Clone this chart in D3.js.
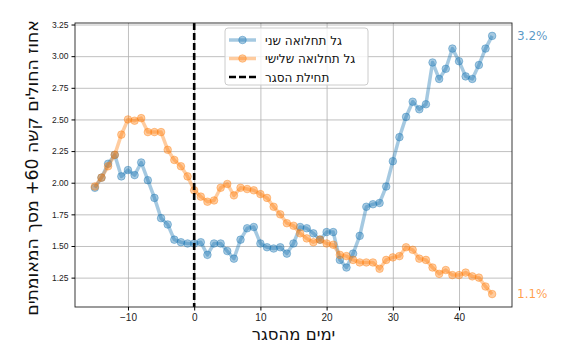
<!DOCTYPE html>
<html>
<head>
<meta charset="utf-8">
<script src="https://cdn.jsdelivr.net/npm/d3@7"></script>
<style>
  body { margin: 0; background: #fff; }
  svg { font-family: 'DejaVu Sans', sans-serif; }
</style>
</head>
<body>
<svg id="chart"></svg>
<script>
// days relative to the lockdown start
const days = d3.range(-15, 46)

const secondWave = [
  1.96, 2.04, 2.15, 2.22, 2.05, 2.10, 2.06, 2.16, 2.02, 1.88, 1.72, 1.67, 1.55, 1.53, 1.52,
  1.52, 1.53, 1.43, 1.52, 1.52, 1.46, 1.40, 1.55, 1.64, 1.65, 1.52, 1.49, 1.48, 1.49, 1.44,
  1.52, 1.65, 1.64, 1.60, 1.55, 1.61, 1.61, 1.39, 1.33, 1.44, 1.58, 1.81, 1.83, 1.84, 1.97,
  2.17, 2.36, 2.52, 2.64, 2.58, 2.62, 2.95, 2.82, 2.90, 3.06, 2.96, 2.84, 2.82, 2.93, 3.06,
  3.16
]

const thirdWave = [
  1.97, 2.04, 2.13, 2.22, 2.38, 2.50, 2.49, 2.51, 2.40, 2.40, 2.40, 2.26, 2.18, 2.13, 2.05,
  1.94, 1.89, 1.85, 1.86, 1.96, 1.99, 1.90, 1.96, 1.95, 1.94, 1.91, 1.88, 1.81, 1.75, 1.68,
  1.66, 1.60, 1.56, 1.53, 1.55, 1.52, 1.51, 1.43, 1.42, 1.39, 1.37, 1.37, 1.37, 1.32, 1.39,
  1.41, 1.42, 1.49, 1.47, 1.40, 1.39, 1.33, 1.28, 1.31, 1.27, 1.27, 1.29, 1.26, 1.25, 1.18,
  1.12
]

const xTicks = [-10, 0, 10, 20, 30, 40]
const yTicks = [1.25, 1.50, 1.75, 2.00, 2.25, 2.50, 2.75, 3.00, 3.25]

const seriesNames = ['גל תחלואה שני', 'גל תחלואה שלישי']
const lockdownLabel = 'תחילת הסגר'
const endLabels = ['3.2%', '1.1%']
const xTitle = 'ימים מהסגר'
const yTitle = 'אחוז החולים קשה 60+ מסך המאומתים'

const colors = ['#1f77b4', '#ff7f0e']

const width = 566
const height = 354
const margin = { top: 23, right: 54, bottom: 47, left: 75 }

const svg = d3.select('#chart')
  .attr('width', width)
  .attr('height', height)

// matplotlib style 5% padding round the data
function padded (lo, hi) {
  const pad = (hi - lo) * 0.05
  return [lo - pad, hi + pad]
}

const allValues = secondWave.concat(thirdWave)

const x = d3.scaleLinear()
  .domain(padded(d3.min(days), d3.max(days)))
  .range([margin.left, width - margin.right])

const y = d3.scaleLinear()
  .domain(padded(d3.min(allValues), d3.max(allValues)))
  .range([height - margin.bottom, margin.top])

const plotW = width - margin.left - margin.right
const plotH = height - margin.top - margin.bottom

// grid
svg.append('g')
  .attr('transform', `translate(0,${height - margin.bottom})`)
  .call(d3.axisBottom(x).tickValues(xTicks).tickSize(-plotH).tickFormat(''))
  .call(g => g.select('.domain').remove())
  .call(g => g.selectAll('line').attr('stroke', '#b0b0b0').attr('stroke-width', 0.8))

svg.append('g')
  .attr('transform', `translate(${margin.left},0)`)
  .call(d3.axisLeft(y).tickValues(yTicks).tickSize(-plotW).tickFormat(''))
  .call(g => g.select('.domain').remove())
  .call(g => g.selectAll('line').attr('stroke', '#b0b0b0').attr('stroke-width', 0.8))

// series
const line = d3.line()
  .x((d, i) => x(days[i]))
  .y(d => y(d))

const series = [secondWave, thirdWave]

series.forEach((values, k) => {
  const g = svg.append('g')
  g.append('path')
    .datum(values)
    .attr('d', line)
    .attr('fill', 'none')
    .attr('stroke', colors[k])
    .attr('stroke-opacity', 0.4)
    .attr('stroke-width', 3.5)
    .attr('stroke-linejoin', 'round')

  g.selectAll('circle')
    .data(values)
    .join('circle')
    .attr('cx', (d, i) => x(days[i]))
    .attr('cy', d => y(d))
    .attr('r', 3.8)
    .attr('fill', colors[k])
    .attr('fill-opacity', 0.4)
    .attr('stroke', colors[k])
    .attr('stroke-opacity', 0.4)
    .attr('stroke-width', 1)
})

// lockdown start
svg.append('line')
  .attr('x1', x(0)).attr('x2', x(0))
  .attr('y1', margin.top).attr('y2', height - margin.bottom)
  .attr('stroke', '#000')
  .attr('stroke-width', 2.6)
  .attr('stroke-dasharray', '7,3')

// frame
svg.append('rect')
  .attr('x', margin.left).attr('y', margin.top)
  .attr('width', plotW).attr('height', plotH)
  .attr('fill', 'none')
  .attr('stroke', '#222')
  .attr('stroke-width', 0.9)

// axes
const xAxis = svg.append('g')
  .attr('transform', `translate(0,${height - margin.bottom})`)
  .call(d3.axisBottom(x).tickValues(xTicks).tickSize(3.5).tickPadding(3)
    .tickFormat(d => d < 0 ? '\u2212' + Math.abs(d) : d))
xAxis.select('.domain').remove()
xAxis.selectAll('text').attr('font-size', 10).attr('fill', '#222')

const yAxis = svg.append('g')
  .attr('transform', `translate(${margin.left},0)`)
  .call(d3.axisLeft(y).tickValues(yTicks).tickSize(3.5).tickPadding(3)
    .tickFormat(d3.format('.2f')))
yAxis.select('.domain').remove()
yAxis.selectAll('text').attr('font-size', 8.5).attr('fill', '#222')

// axis titles
svg.append('text')
  .attr('x', margin.left + plotW / 2)
  .attr('y', 340)
  .attr('text-anchor', 'middle')
  .attr('font-size', 16.5)
  .attr('fill', '#111')
  .text(xTitle)

svg.append('text')
  .attr('transform', `translate(38,${margin.top + plotH / 2 + 3}) rotate(-90)`)
  .attr('text-anchor', 'middle')
  .attr('font-size', 17.3)
  .attr('fill', '#111')
  .text(yTitle)

// values at the end of each line
const last = days.length - 1
series.forEach((values, k) => {
  svg.append('text')
    .attr('x', width - margin.right + 5)
    .attr('y', y(values[last]) + 4)
    .attr('font-size', 12)
    .attr('fill', colors[k])
    .attr('fill-opacity', 0.75)
    .text(endLabels[k])
})

// legend
const legend = svg.append('g').attr('transform', 'translate(225,28)')
legend.append('rect')
  .attr('width', 143).attr('height', 57)
  .attr('rx', 3)
  .attr('fill', '#fff').attr('fill-opacity', 0.8)
  .attr('stroke', '#ccc')

const rows = [0, 1, 2]
rows.forEach(i => {
  const ry = 12 + i * 18.5
  const item = legend.append('g').attr('transform', `translate(0,${ry})`)
  if (i < 2) {
    item.append('line')
      .attr('x1', 4).attr('x2', 31)
      .attr('stroke', colors[i]).attr('stroke-opacity', 0.4).attr('stroke-width', 3.5)
    item.append('circle')
      .attr('cx', 17.5).attr('r', 3.8)
      .attr('fill', colors[i]).attr('fill-opacity', 0.4)
      .attr('stroke', colors[i]).attr('stroke-opacity', 0.4)
  } else {
    item.append('line')
      .attr('x1', 4).attr('x2', 31)
      .attr('stroke', '#000').attr('stroke-width', 2.6)
      .attr('stroke-dasharray', '7,3')
  }
  item.append('text')
    .attr('x', 40)
    .attr('y', 4.5)
    .attr('font-size', 12)
    .attr('fill', '#111')
    .text(i < 2 ? seriesNames[i] : lockdownLabel)
})
</script>
</body>
</html>
